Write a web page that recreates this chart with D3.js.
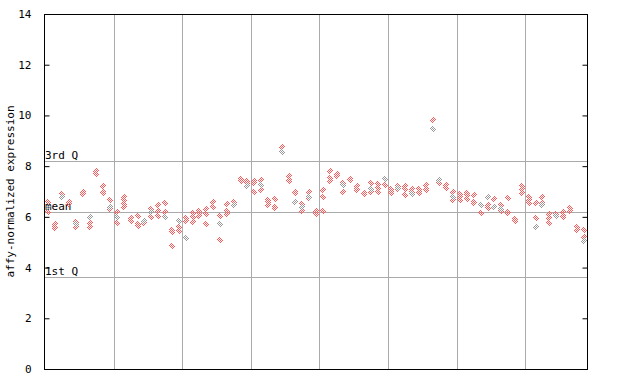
<!DOCTYPE html>
<html>
<head>
<meta charset="utf-8">
<script src="https://cdn.jsdelivr.net/npm/d3@7"></script>
<style>
  body { margin: 0; background: #fff; }
  text { font-family: "DejaVu Sans Mono", monospace; font-size: 11px; fill: #000; }
</style>
</head>
<body>
<svg id="chart" width="640" height="384"></svg>
<script>
// one entry per sample column (79 columns, grid every 10)
var redSeries = [
  [6.6, 6.2], [5.7, 5.6, 5.55], [6.9], [6.6, 6.5], [5.8, 5.6],
  [7.0, 6.9], [5.75, 5.6], [7.8, 7.7], [7.2, 7.0, 6.95], [6.65, 6.3],
  [6.2, 5.75], [6.8, 6.65, 6.5, 6.4], [5.95, 5.85], [6.05, 5.7, 5.65], [5.75],
  [6.3, 6.0], [6.45, 6.25, 6.05], [6.55, 6.2], [5.5, 5.4, 4.85], [5.6, 5.45],
  [5.95, 5.85], [6.15, 6.0, 5.8], [6.25, 6.15, 6.05], [6.3, 6.1, 5.7], [6.6, 6.4],
  [6.05, 5.1], [6.5, 6.25, 6.1], [6.6], [7.5, 7.45, 7.4], [7.4, 7.35],
  [7.4, 7.35, 7.0], [7.45, 7.05], [6.65, 6.6, 6.45], [6.7, 6.4, 6.35], [8.75],
  [7.6, 7.45, 7.4], [7.0, 6.95], [6.5, 6.25], [7.0, 6.75], [6.25, 6.2, 6.1],
  [7.05, 6.8, 6.25], [7.8, 7.55, 7.4], [7.7, 7.6], [7.35, 7.0], [7.5, 7.45],
  [7.2, 7.1, 7.05], [6.95, 6.9], [7.35, 7.0], [7.3, 7.15, 7.0], [7.25],
  [7.1, 7.0, 6.95], [7.2, 7.1], [7.2, 7.1, 6.85], [7.1, 7.0], [7.1, 7.0, 6.95],
  [7.25, 7.1, 7.05], [9.8], [7.35], [7.25, 7.15], [7.0, 6.65],
  [6.9, 6.8, 6.65], [6.95, 6.85, 6.7], [6.85, 6.6, 6.55], [6.15], [6.45, 6.35],
  [6.7], [6.45, 6.25], [6.75, 6.2, 6.15], [5.9, 5.85], [7.2, 7.1, 6.95],
  [6.8, 6.65, 6.55], [6.55, 5.95], [6.8, 6.55], [6.1, 5.95, 5.75], [6.1],
  [6.2, 6.05, 6.0], [6.35, 6.25], [5.6, 5.5], [5.5, 5.2]
];
var graySeries = [
  [6.4], [], [6.8], [], [5.7],
  [], [6.0], [], [], [6.4],
  [6.0], [], [], [], [5.85],
  [6.2], [], [6.0], [], [5.85],
  [5.15], [], [], [], [],
  [5.7], [], [6.45], [], [7.2],
  [], [7.25], [], [], [8.55],
  [], [6.6], [6.4], [6.8], [],
  [], [], [], [7.25], [],
  [], [], [7.1], [], [7.5],
  [], [7.15], [], [6.9], [],
  [], [9.45], [7.45], [], [6.8],
  [], [], [], [6.45], [6.8],
  [6.4], [6.3], [], [], [],
  [], [5.6], [6.45], [], [6.05],
  [], [], [], [5.05]
];
var yTicks = [0, 2, 4, 6, 8, 10, 12, 14];
var refLines = [
  { label: '3rd Q', value: 8.21 },
  { label: 'mean', value: 6.21 },
  { label: '1st Q', value: 3.61 }
];

var svg = d3.select('#chart');
var plotL = 44, plotR = 587, plotT = 14, plotB = 369;
var nCols = redSeries.length;

var x = d3.scaleLinear().domain([0, nCols]).range([plotL + 1, plotR]);
var y = d3.scaleLinear().domain([0, 14]).range([plotB, plotT]);

// checker patterns for the dotted diamonds
var defs = svg.append('defs');
function checker(id, color) {
  var p = defs.append('pattern')
    .attr('id', id)
    .attr('patternUnits', 'userSpaceOnUse')
    .attr('width', 2).attr('height', 2);
  p.append('rect').attr('x', 0).attr('y', 0).attr('width', 1).attr('height', 1).attr('fill', color);
  p.append('rect').attr('x', 1).attr('y', 1).attr('width', 1).attr('height', 1).attr('fill', color);
}
checker('chkRed', '#ff5959');
checker('chkGray', '#999999');

// grid lines
var gridCols = d3.range(10, nCols, 10);
svg.selectAll('.vgrid')
  .data(gridCols)
  .enter().append('line')
  .attr('x1', d => Math.round(x(d)) + 0.5)
  .attr('x2', d => Math.round(x(d)) + 0.5)
  .attr('y1', plotT).attr('y2', plotB)
  .attr('stroke', '#aaaaaa');

svg.selectAll('.hgrid')
  .data(refLines)
  .enter().append('line')
  .attr('x1', plotL).attr('x2', plotR)
  .attr('y1', d => Math.round(y(d.value)) + 0.5)
  .attr('y2', d => Math.round(y(d.value)) + 0.5)
  .attr('stroke', '#aaaaaa');

svg.selectAll('.reflabel')
  .data(refLines)
  .enter().append('text')
  .attr('x', plotL + 1)
  .attr('y', d => Math.round(y(d.value)) - 2)
  .text(d => d.label);

// points
function diamond(cx, cy) {
  var r = 3.5;
  return 'M' + cx + ',' + (cy - r) + 'L' + (cx + r) + ',' + cy +
    'L' + cx + ',' + (cy + r) + 'L' + (cx - r) + ',' + cy + 'Z';
}
function flatten(series) {
  var out = [];
  series.forEach((vals, i) => {
    vals.forEach(v => out.push({ col: i, value: v }));
  });
  return out;
}

svg.selectAll('.pr')
  .data(flatten(redSeries))
  .enter().append('path')
  .attr('d', d => diamond(Math.round(x(d.col + 0.5)), Math.round(y(d.value))))
  .attr('fill', 'url(#chkRed)')
  .attr('shape-rendering', 'crispEdges');

svg.selectAll('.pg')
  .data(flatten(graySeries))
  .enter().append('path')
  .attr('d', d => diamond(Math.round(x(d.col + 0.5)), Math.round(y(d.value))))
  .attr('fill', 'url(#chkGray)')
  .attr('shape-rendering', 'crispEdges');

// frame
svg.append('rect')
  .attr('x', plotL + 0.5).attr('y', plotT + 0.5)
  .attr('width', plotR - plotL).attr('height', plotB - plotT)
  .attr('fill', 'none').attr('stroke', '#000');

// axes
var yAxis = d3.axisLeft(y).tickValues(yTicks).tickSizeInner(-5).tickSizeOuter(0).tickPadding(13);
var gy = svg.append('g')
  .attr('transform', 'translate(' + (plotL + 0.5) + ',0)')
  .call(yAxis);
gy.select('.domain').remove();
gy.selectAll('text').style('font-family', '"DejaVu Sans Mono", monospace').style('font-size', '11px');

var yAxisR = d3.axisRight(y).tickValues(yTicks).tickSizeInner(-5).tickSizeOuter(0).tickFormat('');
var gr = svg.append('g')
  .attr('transform', 'translate(' + (plotR + 0.5) + ',0)')
  .call(yAxisR);
gr.select('.domain').remove();

svg.append('text')
  .attr('transform', 'translate(14,' + ((plotT + plotB) / 2) + ') rotate(-90)')
  .attr('text-anchor', 'middle')
  .style('font-size', '11px')
  .text('affy-normalized expression');
</script>
</body>
</html>
